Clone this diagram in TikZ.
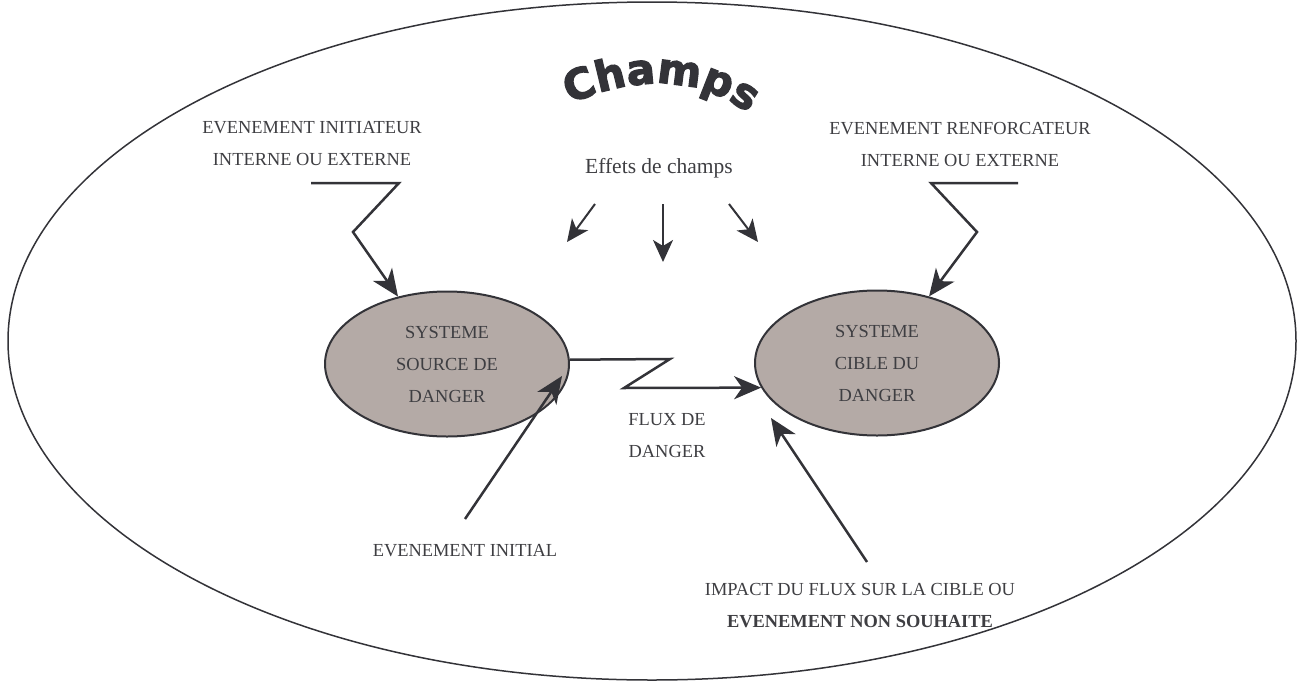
\documentclass[tikz,border=0pt]{standalone}
\usepackage{fontspec}
\setmainfont{Liberation Serif}
\newfontfamily\champfont{DejaVu Sans Bold}[FakeBold=3]
\usetikzlibrary{shapes.geometric, arrows.meta, decorations.text}
\definecolor{ink}{RGB}{51,51,56}
\definecolor{txt}{RGB}{62,62,66}
\definecolor{sysfill}{RGB}{180,170,166}
\newcommand{\champstyle}{\color{ink}\champfont\fontsize{42}{42}\selectfont}
\tikzset{
  lbl/.style={text=txt, font=\fontsize{18.4}{32}\selectfont, align=center, inner sep=0pt},
  sys/.style={ellipse, draw=ink, line width=2pt, fill=sysfill, minimum width=244pt, minimum height=145pt, lbl},
  arr/.style={draw=ink, line width=2.5pt, line join=miter, -{Stealth[length=27pt, width=23pt, inset=8pt]}},
  sarr/.style={draw=ink, line width=2pt, -{Stealth[length=22pt, width=20pt, inset=6pt]}}
}
\begin{document}
\begin{tikzpicture}[x=1pt, y=-1pt]
\useasboundingbox (0,0) rectangle (1298,680);
% outer field
\node[ellipse, draw=ink, line width=1.5pt, minimum width=1288pt, minimum height=678pt, inner sep=0pt] (champ) at (652,341) {};
% arched title
\coordinate (t0) at (566,106);
\coordinate (t1) at (629,76);
\coordinate (t2) at (697,73);
\coordinate (t3) at (752,116);
\path[decorate, decoration={text along path, text align=center, text={|\champstyle|Champs}}]
  (t0) .. controls (t1) and (t2) .. (t3);
% systems
\node[sys] (src) at (447,364) {SYSTEME\\SOURCE DE\\DANGER};
\node[sys] (tgt) at (877,363) {SYSTEME\\CIBLE DU\\DANGER};
% labels
\node[lbl] (init) at (312,144) {EVENEMENT INITIATEUR\\INTERNE OU EXTERNE};
\node[lbl] (renf) at (960,144) {EVENEMENT RENFORCATEUR\\INTERNE OU EXTERNE};
\node[lbl, font=\fontsize{21.5}{26}\selectfont] (eff) at (659,168) {Effets de champs};
\node[lbl] (flux) at (667,436) {FLUX DE\\DANGER};
\node[lbl] (einit) at (465,551) {EVENEMENT INITIAL};
\node[lbl] (imp) at (860,606) {IMPACT DU FLUX SUR LA CIBLE OU\\\textbf{EVENEMENT NON SOUHAITE}};
% coordinates
\coordinate (z1a) at (311,183);
\coordinate (z1b) at (399,183);
\coordinate (z1c) at (353,232);
\coordinate (z2a) at (1018,183);
\coordinate (z2b) at (931,183);
\coordinate (z2c) at (977,232);
\coordinate (f1) at (670,359);
\coordinate (f2) at (624,388);
\coordinate (ei0) at (465,519);
\coordinate (ei1) at (562,376);
\coordinate (im0) at (867,562);
\coordinate (im1) at (771,418);
\coordinate (e1a) at (595,204);
\coordinate (e1b) at (567,242);
\coordinate (e2a) at (663,204);
\coordinate (e2b) at (663,262);
\coordinate (e3a) at (729,204);
\coordinate (e3b) at (758,242);
% connectors
\draw[arr] (z1a) -- (z1b) -- (z1c) -- (src.126);
\draw[arr] (z2a) -- (z2b) -- (z2c) -- (tgt.52);
\draw[arr] (src.2) -- (f1) -- (f2) -- (tgt.192);
\draw[arr] (ei0) -- (ei1);
\draw[arr] (im0) -- (im1);
\draw[sarr] (e1a) -- (e1b);
\draw[sarr] (e2a) -- (e2b);
\draw[sarr] (e3a) -- (e3b);
\end{tikzpicture}
\end{document}
